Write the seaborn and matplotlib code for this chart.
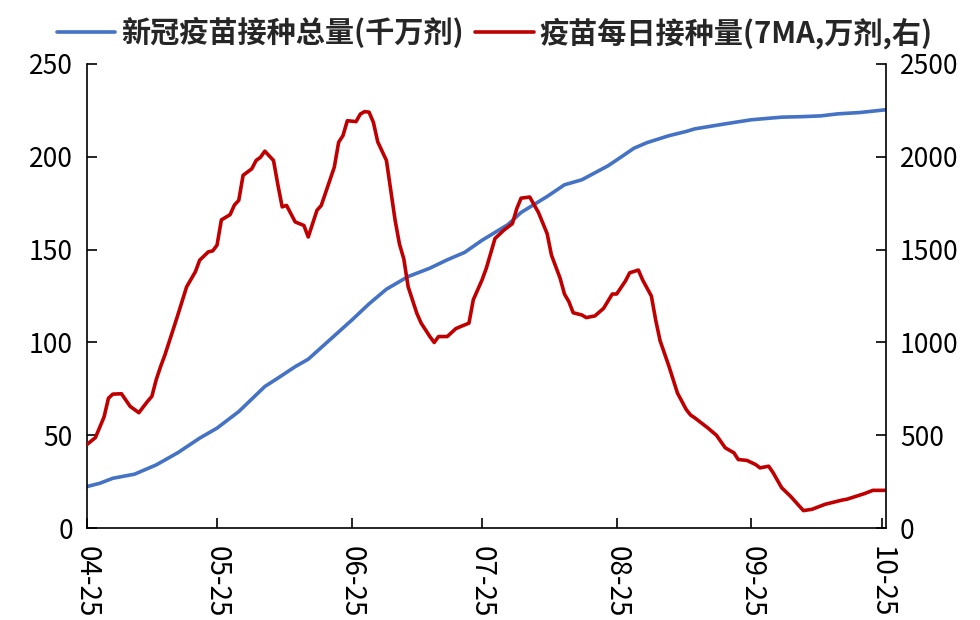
import pandas as pd
import matplotlib.pyplot as plt
import matplotlib.dates as mdates
import seaborn as sns

# cumulative doses (left axis, 千万剂)
total_dates = ["04-25", "04-28", "05-01", "05-06", "05-11", "05-16", "05-21", "05-25",
               "05-30", "06-05", "06-08", "06-12", "06-15", "06-19", "06-23", "06-25",
               "06-29", "07-03", "07-08", "07-13", "07-17", "07-21", "07-25", "07-31",
               "08-03", "08-09", "08-13", "08-17", "08-23", "08-26", "08-29", "09-01",
               "09-06", "09-10", "09-12", "09-19", "09-25", "10-02", "10-07", "10-11",
               "10-15", "10-20", "10-26"]
total_values = [22.4, 24.2, 26.9, 29.1, 34.1, 40.7, 48.5, 53.9,
                62.8, 76.3, 80.8, 87.0, 91.0, 99.4, 107.8, 112.0,
                120.8, 128.7, 135.5, 140.0, 144.5, 148.5, 155.0, 163.5,
                170.0, 178.6, 184.9, 187.6, 195.1, 199.8, 204.6, 207.6,
                211.3, 213.6, 215.0, 217.7, 219.9, 221.3, 221.6, 222.0,
                223.1, 223.8, 225.3]

# daily doses, 7-day MA (right axis, 万剂)
daily_dates = ["04-25", "04-27", "04-29", "04-30", "05-01", "05-03", "05-05", "05-07",
               "05-09", "05-10", "05-11", "05-12", "05-13", "05-15", "05-16", "05-18",
               "05-19", "05-20", "05-21", "05-23", "05-24", "05-25", "05-26", "05-28",
               "05-29", "05-30", "05-31", "06-02", "06-03", "06-04", "06-05", "06-07",
               "06-08", "06-09", "06-10", "06-12", "06-14", "06-15", "06-17", "06-18",
               "06-21", "06-22", "06-23", "06-24", "06-26", "06-27", "06-28", "06-29",
               "06-30", "07-01", "07-02", "07-03", "07-05", "07-06", "07-07", "07-08",
               "07-10", "07-11", "07-13", "07-14", "07-15", "07-17", "07-19", "07-20",
               "07-22", "07-23", "07-25", "07-26", "07-28", "07-30", "08-01", "08-02",
               "08-03", "08-05", "08-07", "08-09", "08-10", "08-12", "08-13", "08-14",
               "08-15", "08-17", "08-18", "08-20", "08-22", "08-24", "08-25", "08-27",
               "08-28", "08-30", "08-31", "09-02", "09-03", "09-04", "09-06", "09-08",
               "09-10", "09-11", "09-12", "09-15", "09-17", "09-19", "09-21", "09-22",
               "09-24", "09-26", "09-27", "09-29", "09-30", "10-02", "10-04", "10-07",
               "10-09", "10-12", "10-16", "10-17", "10-21", "10-23", "10-26"]
daily_values = [450, 488, 600, 700, 722, 724, 656, 622,
                683, 710, 800, 870, 933, 1077, 1150, 1300,
                1340, 1380, 1443, 1488, 1493, 1524, 1660, 1688,
                1740, 1765, 1900, 1935, 1980, 1997, 2030, 1980,
                1850, 1730, 1738, 1649, 1630, 1568, 1711, 1738,
                1944, 2078, 2114, 2194, 2189, 2230, 2243, 2240,
                2185, 2080, 2030, 1980, 1658, 1530, 1450, 1300,
                1157, 1104, 1032, 1000, 1032, 1032, 1075, 1085,
                1104, 1230, 1336, 1400, 1560, 1604, 1640, 1720,
                1777, 1783, 1700, 1586, 1470, 1345, 1260, 1220,
                1160, 1148, 1134, 1143, 1184, 1261, 1261, 1330,
                1375, 1390, 1336, 1250, 1120, 1010, 875, 728,
                640, 610, 594, 540, 500, 433, 406, 370,
                365, 343, 325, 334, 300, 218, 173, 95,
                102, 129, 152, 156, 186, 204, 204]

tick_dates = ["04-25", "05-25", "06-25", "07-25", "08-25", "09-25", "10-25"]

year = "2021-"
df_total = pd.DataFrame({"date": pd.to_datetime([year + d for d in total_dates]), "v": total_values})
df_daily = pd.DataFrame({"date": pd.to_datetime([year + d for d in daily_dates]), "v": daily_values})

sns.set_style("ticks")
plt.rcParams['font.family'] = ['Noto Sans CJK SC', 'DejaVu Sans']

fig = plt.figure(figsize=(9.8, 6.2), dpi=100)
ax = fig.add_axes([0.0885, 0.148, 0.8155, 0.749])
ax2 = ax.twinx()

blue = "#4472C4"
red = "#C00000"
sns.lineplot(data=df_total, x="date", y="v", ax=ax, color=blue, linewidth=2.6,
             label="新冠疫苗接种总量(千万剂)", legend=False)
sns.lineplot(data=df_daily, x="date", y="v", ax=ax2, color=red, linewidth=2.6,
             label="疫苗每日接种量(7MA,万剂,右)", legend=False)

ax.set_ylim(0, 250)
ax.set_yticks([0, 50, 100, 150, 200, 250])
ax2.set_ylim(0, 2500)
ax2.set_yticks([0, 500, 1000, 1500, 2000, 2500])
ax.set_xlim(pd.Timestamp(year + "04-25"), pd.Timestamp(year + "10-26"))
ax.set_xticks(pd.to_datetime([year + d for d in tick_dates]))
ax.xaxis.set_major_formatter(mdates.DateFormatter("%m-%d"))

for a in (ax, ax2):
    a.set_xlabel("")
    a.set_ylabel("")
    a.spines["top"].set_visible(False)
    for s in ("left", "right", "bottom"):
        a.spines[s].set_color("black")
        a.spines[s].set_linewidth(1.2)
    a.tick_params(axis="both", direction="in", length=7, width=1.2, labelsize=19, colors="black")
ax.spines["right"].set_visible(False)
ax2.spines["left"].set_visible(False)
ax2.spines["bottom"].set_visible(False)
ax.tick_params(axis="x", pad=13, labelsize=20)
ax2.tick_params(axis="y", pad=10)
ax.tick_params(axis="y", pad=10)
plt.setp(ax.get_xticklabels(), rotation=-90, ha="center", va="top")

h1, l1 = ax.get_legend_handles_labels()
h2, l2 = ax2.get_legend_handles_labels()
fig.legend(h1 + h2, l1 + l2, loc="upper center", bbox_to_anchor=(0.505, 1.015), ncol=2,
           frameon=False, handlelength=2.0, handletextpad=0.2, columnspacing=0.4,
           prop={"size": 21, "weight": "bold"})

plt.savefig("out.png", dpi=100)
